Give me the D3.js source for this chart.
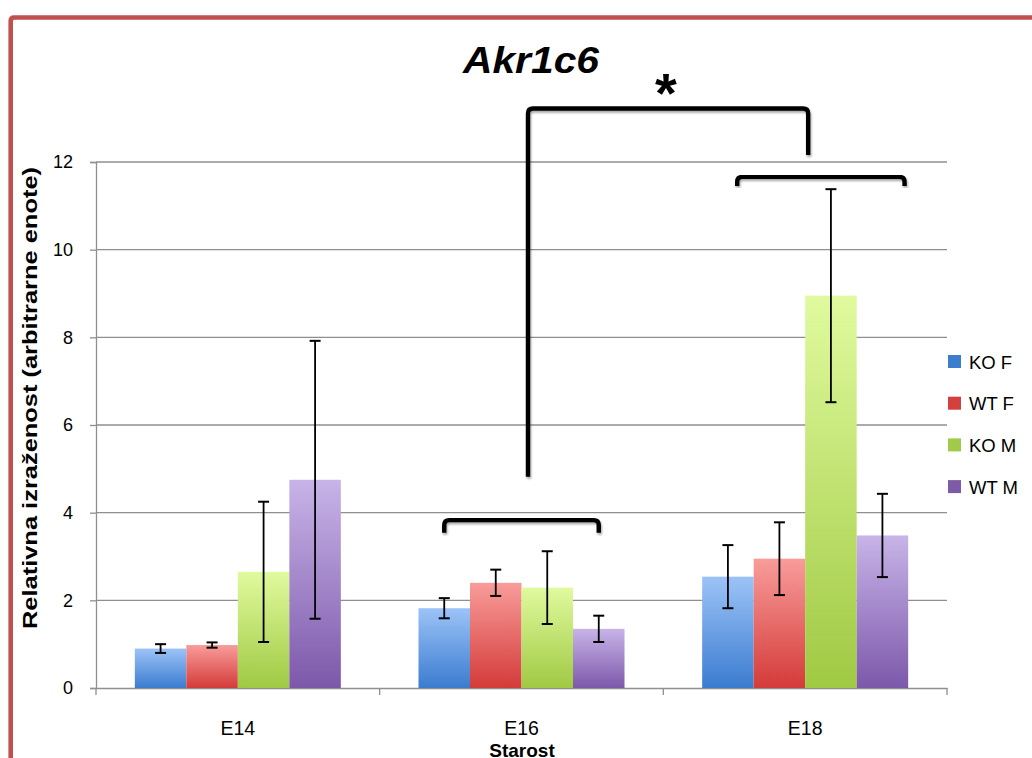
<!DOCTYPE html>
<html><head><meta charset="utf-8">
<script src="https://cdn.jsdelivr.net/npm/d3@7"></script>
<style>body{margin:0;background:#fff}svg{display:block}</style>
</head><body>
<svg id="c" width="1032" height="758"></svg>
<script>
const categories = ["E14", "E16", "E18"];
const seriesNames = ["KO F", "WT F", "KO M", "WT M"];
const koF = [0.90, 1.82, 2.54];
const koFErr = [0.10, 0.23, 0.72];
const wtF = [0.98, 2.40, 2.95];
const wtFErr = [0.06, 0.30, 0.83];
const koM = [2.65, 2.29, 8.95];
const koMErr = [1.60, 0.83, 2.43];
const wtM = [4.75, 1.35, 3.48];
const wtMErr = [3.17, 0.30, 0.95];
const yTicks = [0, 2, 4, 6, 8, 10, 12];
const title = "Akr1c6";
const xTitle = "Starost";
const yTitle = "Relativna izraženost (arbitrarne enote)";
const sigMark = "*";

(function () {
const values = [koF, wtF, koM, wtM];
const errs = [koFErr, wtFErr, koMErr, wtMErr];
const lightCol = ["#9cc3f7", "#f89c9a", "#e0fa9e", "#c8b4e8"];
const darkCol = ["#3b7cd0", "#d43b39", "#a0c943", "#7c58aa"];
const legendCol = ["#3d7dce", "#d43f3f", "#a2c94a", "#7d5ba6"];
const FONT = "Liberation Sans, Arial, sans-serif";

const svg = d3.select("#c");
const pL = 96, pR = 947, pT = 162, pB = 688;
const y = d3.scaleLinear().domain([0, 12]).range([pB, pT]);
const x0 = d3.scaleBand().domain(categories).range([pL, pR]).paddingInner(0).paddingOuter(0);
const x1 = d3.scaleBand().domain(seriesNames).range([0, x0.bandwidth()]).paddingInner(0).paddingOuter(0.754);

const defs = svg.append("defs");
seriesNames.forEach((s, i) => {
  const g = defs.append("linearGradient").attr("id", "g" + i)
    .attr("x1", 0).attr("y1", 0).attr("x2", 0).attr("y2", 1);
  g.append("stop").attr("offset", "0%").attr("stop-color", lightCol[i]);
  g.append("stop").attr("offset", "100%").attr("stop-color", darkCol[i]);
});
const f = defs.append("filter").attr("id", "sh").attr("x", "-10%").attr("y", "-10%").attr("width", "120%").attr("height", "130%");
f.append("feDropShadow").attr("dx", 1).attr("dy", 2).attr("stdDeviation", 1.2).attr("flood-color", "#000").attr("flood-opacity", 0.35);

svg.append("path").attr("d", `M10.7,758 V21 Q10.7,17.5 14.2,17.5 H1040`)
  .attr("fill", "none").attr("stroke", "#c0504d").attr("stroke-width", 4.6);

svg.append("g").selectAll("line").data(yTicks.filter(d => d > 0)).join("line")
  .attr("x1", pL).attr("x2", pR).attr("y1", d => y(d)).attr("y2", d => y(d))
  .attr("stroke", "#8f8f8f").attr("stroke-width", 1.3);

const yAxis = svg.append("g").attr("transform", `translate(${pL},0)`)
  .call(d3.axisLeft(y).tickValues(yTicks).tickSize(6).tickPadding(17).tickFormat(d3.format("d")));
yAxis.select(".domain").attr("stroke", "#8f8f8f").attr("stroke-width", 1.3);
yAxis.selectAll(".tick line").attr("stroke", "#8f8f8f").attr("stroke-width", 1.3);
yAxis.selectAll("text").attr("font-family", FONT).attr("font-size", 18).attr("fill", "#000");

const xAxis = svg.append("g").attr("transform", `translate(0,${pB})`)
  .call(d3.axisBottom(x0).tickSize(0).tickPadding(33));
xAxis.select(".domain").attr("stroke", "#8f8f8f").attr("stroke-width", 1.3);
xAxis.selectAll("text").attr("font-family", FONT).attr("font-size", 19.5).attr("fill", "#000");
svg.append("g").selectAll("line").data(d3.range(categories.length + 1)).join("line")
  .attr("x1", i => pL + i * x0.step()).attr("x2", i => pL + i * x0.step())
  .attr("y1", pB).attr("y2", pB + 7).attr("stroke", "#8f8f8f").attr("stroke-width", 1.3);

const groups = svg.append("g").selectAll("g").data(categories).join("g")
  .attr("transform", d => `translate(${x0(d)},0)`);
groups.each(function (cat, ci) {
  const g = d3.select(this);
  seriesNames.forEach((s, si) => {
    const v = values[si][ci];
    g.append("rect").attr("x", x1(s)).attr("width", x1.bandwidth())
      .attr("y", y(v)).attr("height", y(0) - y(v)).attr("fill", `url(#g${si})`);
  });
  seriesNames.forEach((s, si) => {
    const v = values[si][ci], e = errs[si][ci];
    const cx = x1(s) + x1.bandwidth() / 2;
    g.append("line").attr("x1", cx).attr("x2", cx).attr("y1", y(v + e)).attr("y2", y(v - e))
      .attr("stroke", "#000").attr("stroke-width", 1.8);
    [v + e, v - e].forEach(t => g.append("line").attr("x1", cx - 5.5).attr("x2", cx + 5.5)
      .attr("y1", y(t)).attr("y2", y(t)).attr("stroke", "#000").attr("stroke-width", 2));
  });
});

const bw = x1.bandwidth();
function bracket(xa, xb, yTop, yEndA, yEndB) {
  const r = 5;
  svg.append("path")
    .attr("d", `M${xa},${yEndA} V${yTop + r} Q${xa},${yTop} ${xa + r},${yTop} H${xb - r} Q${xb},${yTop} ${xb},${yTop + r} V${yEndB}`)
    .attr("fill", "none").attr("stroke", "#000").attr("stroke-width", 4.4).attr("filter", "url(#sh)");
}
bracket(x0("E16") + x1("KO F") + bw / 2, x0("E16") + x1("WT M") + bw / 2, y(3.83), y(3.54), y(3.54));
bracket(x0("E18") + x1("KO F") + bw * 0.68, x0("E18") + x1("WT M") + bw * 0.93, y(11.66), y(11.45), y(11.45));
bracket(x0("E16") + x0.bandwidth() / 2 + 6.5, x0("E18") + x0.bandwidth() / 2 + 3, y(13.22), y(4.82), y(12.16));

svg.append("text").attr("x", 666).attr("y", 112).attr("text-anchor", "middle")
  .attr("font-family", FONT).attr("font-weight", "bold")
  .attr("font-size", 56).text(sigMark);

svg.append("text").attr("x", 531).attr("y", 73).attr("text-anchor", "middle")
  .attr("font-family", FONT).attr("font-weight", "bold").attr("font-style", "italic")
  .attr("font-size", 36).attr("textLength", 136).attr("lengthAdjust", "spacingAndGlyphs").text(title);

svg.append("text").attr("x", (pL + pR) / 2 + 0.5).attr("y", 757).attr("text-anchor", "middle")
  .attr("font-family", FONT).attr("font-weight", "bold")
  .attr("font-size", 19).text(xTitle);
svg.append("text").attr("transform", `translate(37,398) rotate(-90)`).attr("text-anchor", "middle")
  .attr("font-family", FONT).attr("font-weight", "bold")
  .attr("font-size", 19.5).attr("textLength", 462).attr("lengthAdjust", "spacingAndGlyphs").text(yTitle);

const leg = svg.append("g").selectAll("g").data(seriesNames).join("g")
  .attr("transform", (d, i) => `translate(948,${361.5 + i * 41.7})`);
leg.append("rect").attr("x", 0).attr("y", -6.5).attr("width", 13).attr("height", 13)
  .attr("fill", (d, i) => legendCol[i]);
leg.append("text").attr("x", 21).attr("y", 7).attr("font-family", FONT)
  .attr("font-size", 18.5).attr("fill", "#000").text(d => d);
})();
</script>
</body></html>
